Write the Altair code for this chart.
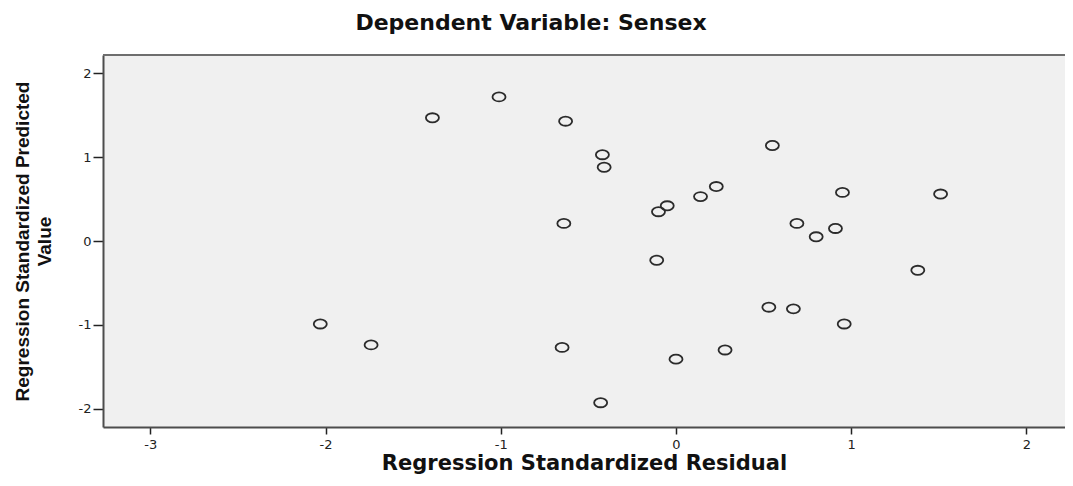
import altair as alt
import pandas as pd

# Regression Standardized Residual (x) and Regression Standardized Predicted Value (y)
residual = [-1.39, -1.01, -0.63, -0.42, -0.41, 0.55, 0.23, 0.14, -0.05, -0.10,
            0.95, 1.51, -0.64, 0.69, 0.91, 0.80, -0.11, 1.38, 0.53, 0.67,
            0.96, -2.03, -1.74, -0.65, 0.00, 0.28, -0.43]
predicted = [1.47, 1.72, 1.43, 1.03, 0.88, 1.14, 0.65, 0.53, 0.42, 0.35,
             0.58, 0.56, 0.21, 0.21, 0.15, 0.05, -0.23, -0.35, -0.79, -0.81,
             -0.99, -0.99, -1.24, -1.27, -1.41, -1.30, -1.93]
x_ticks = [-3, -2, -1, 0, 1, 2]
y_ticks = [-2, -1, 0, 1, 2]

df = pd.DataFrame({"resid": residual, "pred": predicted})

W, H = 962, 372
ellipse = "M -1 0 A 1 0.7 0 1 0 1 0 A 1 0.7 0 1 0 -1 0 Z"

points = alt.Chart(df).mark_point(
    shape=ellipse, size=170, filled=False, color="#2b2b2b",
    strokeWidth=1.8, opacity=1
).encode(
    x=alt.X("resid:Q",
            scale=alt.Scale(domain=[-3.27, 2.22], nice=False, zero=False),
            axis=alt.Axis(values=x_ticks, labelExpr="'' + datum.value",
                          title="Regression Standardized Residual",
                          grid=False, domainColor="#4d4d4d", domainWidth=2,
                          tickColor="#222222", tickSize=7, tickWidth=1.5,
                          labelFont="DejaVu Sans", labelFontSize=13,
                          labelColor="#222222", labelPadding=4,
                          titleFont="DejaVu Sans", titleFontSize=21,
                          titleFontWeight="bold", titleColor="#111111",
                          titleY=42, titleBaseline="alphabetic")),
    y=alt.Y("pred:Q",
            scale=alt.Scale(domain=[-2.22, 2.22], nice=False, zero=False),
            axis=alt.Axis(values=y_ticks, labelExpr="'' + datum.value",
                          title=["Regression Standardized Predicted", "Value"],
                          grid=False, domainColor="#4d4d4d", domainWidth=2,
                          tickColor="#222222", tickSize=10, tickWidth=1.5,
                          labelFont="DejaVu Sans", labelFontSize=13,
                          labelColor="#222222", labelPadding=2,
                          titleFont="Liberation Sans", titleFontSize=19,
                          titleFontWeight="bold", titleColor="#111111",
                          titleAngle=270, titleX=-81, titleY=186,
                          titleAlign="center", titleBaseline="middle",
                          titleLineHeight=22)),
)

top = alt.Chart(pd.DataFrame({"a": [0]})).mark_rule(
    color="#6e6e6e", strokeWidth=2
).encode(x=alt.value(0), x2=alt.value(W), y=alt.value(0))

chart = alt.layer(points, top).properties(
    width=W, height=H,
    title=alt.TitleParams("Dependent Variable: Sensex", font="DejaVu Sans",
                          fontSize=22, fontWeight="bold", color="#111111",
                          anchor="middle", dx=-53, offset=19),
    autosize=alt.AutoSizeParams(type="none"),
    padding={"left": 95, "top": 47, "right": 0, "bottom": 47},
).configure_view(stroke=None, fill="#f0f0f0")

chart.save("out.html", embed_options={"renderer": "svg", "actions": False})
